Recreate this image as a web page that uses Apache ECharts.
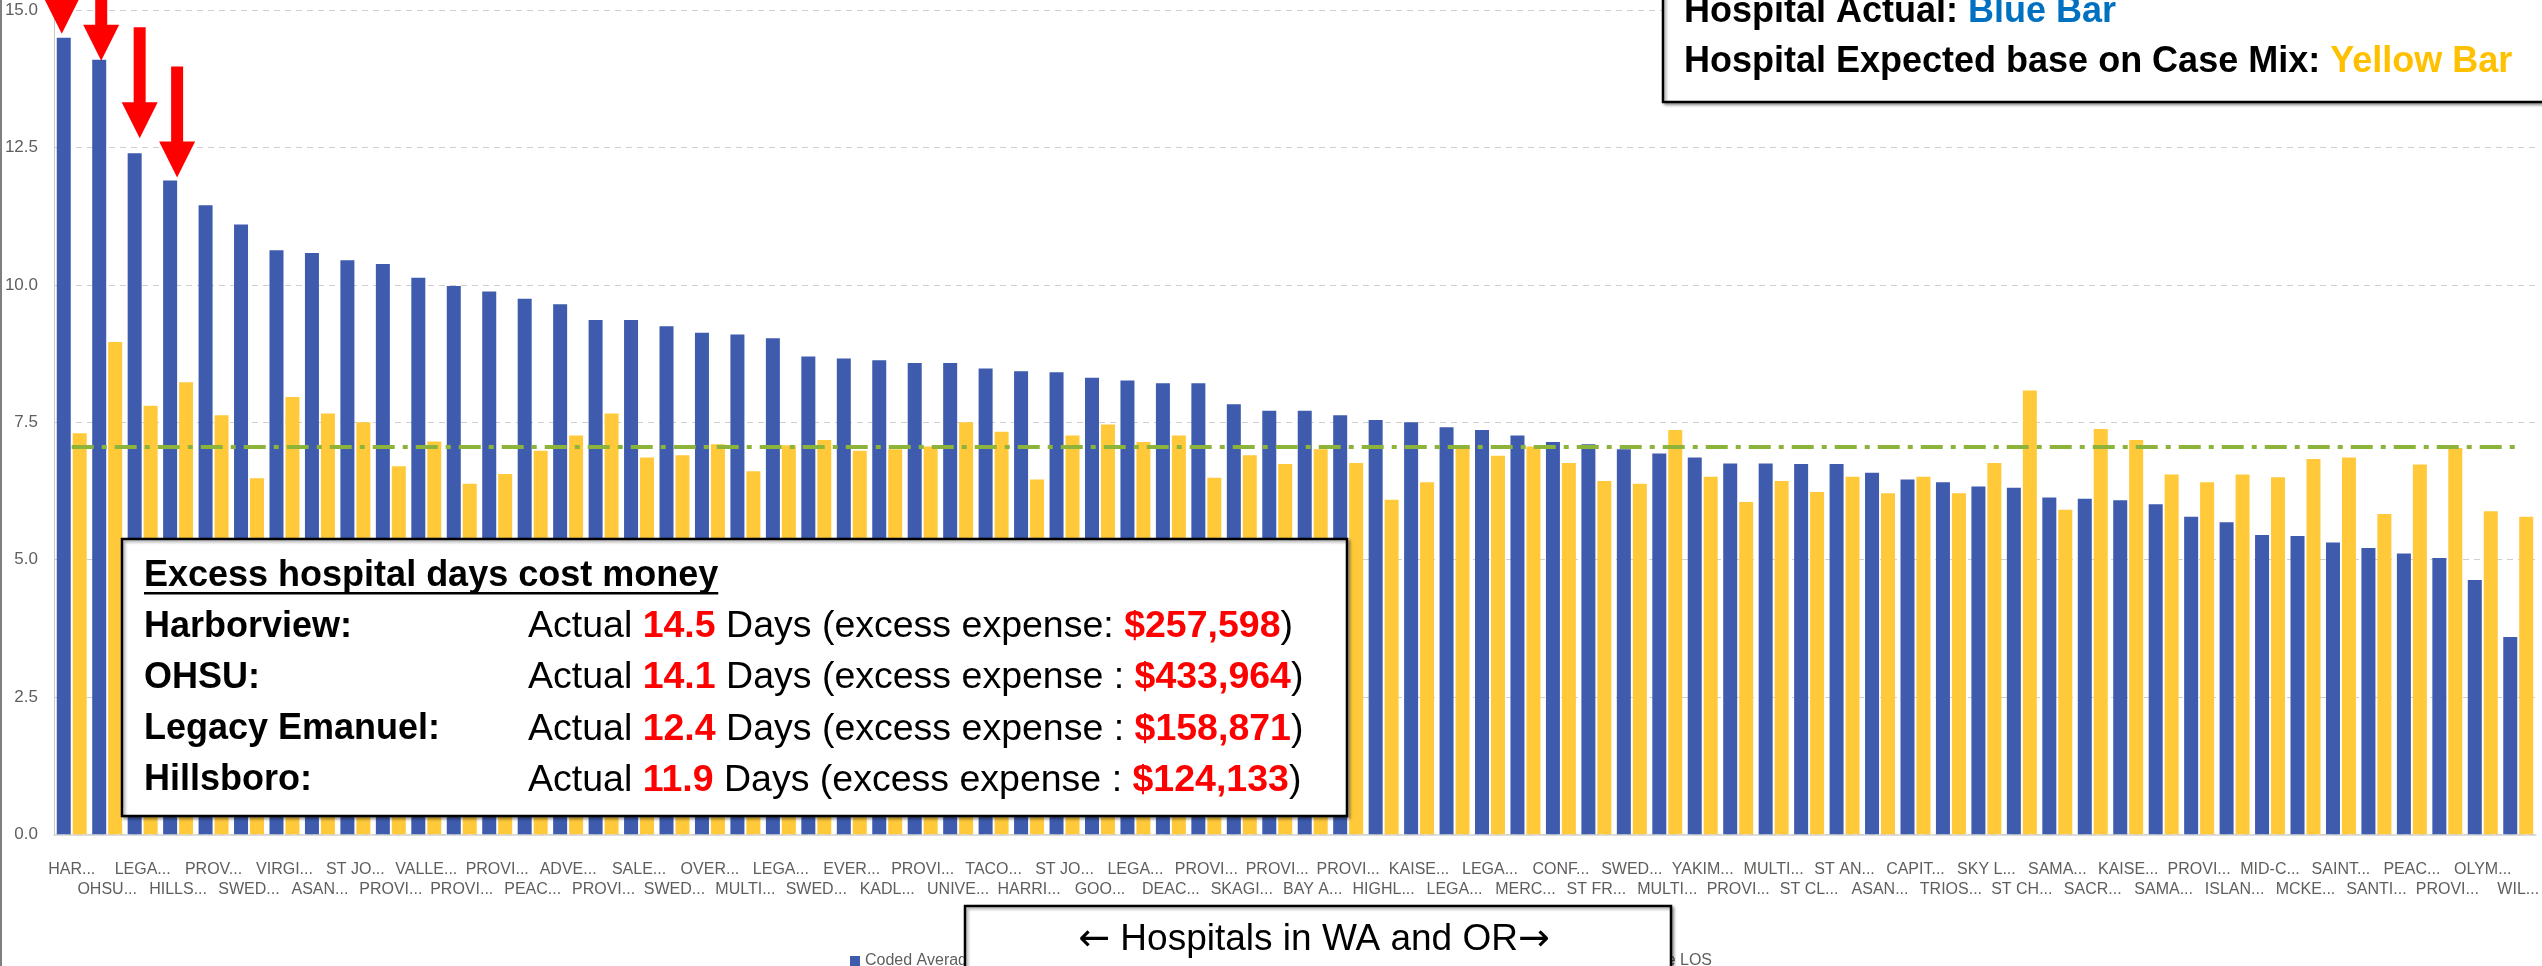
<!DOCTYPE html>
<html>
<head>
<meta charset="utf-8">
<title>Hospital LOS - actual vs expected</title>
<script src="https://cdn.jsdelivr.net/npm/echarts@6/dist/echarts.min.js"></script>
<style>
    html, body { margin: 0; padding: 0; background: #fff; }
    #main { width: 2542px; height: 966px; }
</style>
</head>
<body>
<div id="main"></div>
<script>
// hospitals as they show on the axis (names are cut off in the source)
const categories = [
    'HAR...', 'OHSU...', 'LEGA...', 'HILLS...', 'PROV...', 'SWED...', 'VIRGI...', 'ASAN...', 'ST JO...', 'PROVI...',
    'VALLE...', 'PROVI...', 'PROVI...', 'PEAC...', 'ADVE...', 'PROVI...', 'SALE...', 'SWED...', 'OVER...', 'MULTI...',
    'LEGA...', 'SWED...', 'EVER...', 'KADL...', 'PROVI...', 'UNIVE...', 'TACO...', 'HARRI...', 'ST JO...', 'GOO...',
    'LEGA...', 'DEAC...', 'PROVI...', 'SKAGI...', 'PROVI...', 'BAY A...', 'PROVI...', 'HIGHL...', 'KAISE...', 'LEGA...',
    'LEGA...', 'MERC...', 'CONF...', 'ST FR...', 'SWED...', 'MULTI...', 'YAKIM...', 'PROVI...', 'MULTI...', 'ST CL...',
    'ST AN...', 'ASAN...', 'CAPIT...', 'TRIOS...', 'SKY L...', 'ST CH...', 'SAMA...', 'SACR...', 'KAISE...', 'SAMA...',
    'PROVI...', 'ISLAN...', 'MID-C...', 'MCKE...', 'SAINT...', 'SANTI...', 'PEAC...', 'PROVI...', 'OLYM...', 'WIL...'
];

// coded (actual) average length of stay, days
const actualLOS = [
    14.5, 14.1, 12.4, 11.9, 11.45, 11.1, 10.63, 10.58, 10.45, 10.38,
    10.13, 9.98, 9.88, 9.75, 9.65, 9.36, 9.36, 9.25, 9.13, 9.1,
    9.03, 8.7, 8.66, 8.63, 8.58, 8.58, 8.48, 8.43, 8.41, 8.31,
    8.26, 8.21, 8.21, 7.83, 7.71, 7.71, 7.63, 7.54, 7.5, 7.41,
    7.36, 7.26, 7.14, 7.1, 7.01, 6.93, 6.86, 6.75, 6.75, 6.74,
    6.74, 6.58, 6.46, 6.41, 6.33, 6.31, 6.13, 6.11, 6.08, 6.01,
    5.78, 5.68, 5.45, 5.43, 5.31, 5.21, 5.11, 5.03, 4.63, 3.59
];

// expected average length of stay from case mix, days
const expectedLOS = [
    7.3, 8.96, 7.8, 8.23, 7.63, 6.48, 7.96, 7.66, 7.5, 6.7,
    7.15, 6.38, 6.56, 6.98, 7.26, 7.66, 6.86, 6.9, 7.1, 6.61,
    7.08, 7.18, 6.98, 7.01, 7.06, 7.5, 7.33, 6.46, 7.26, 7.46,
    7.14, 7.26, 6.49, 6.9, 6.74, 7.01, 6.76, 6.09, 6.41, 7.06,
    6.89, 7.06, 6.76, 6.43, 6.38, 7.36, 6.51, 6.05, 6.43, 6.23,
    6.51, 6.21, 6.51, 6.21, 6.76, 8.08, 5.91, 7.38, 7.18, 6.55,
    6.41, 6.55, 6.5, 6.83, 6.86, 5.83, 6.73, 7.03, 5.88, 5.78
];

const avgExpected = 7.06;

// the four hospitals called out with red arrows and in the box
const calloutIndex = [0, 1, 2, 3];
const calloutNames = ['Harborview:', 'OHSU:', 'Legacy Emanuel:', 'Hillsboro:'];
const calloutDays = ['14.5', '14.1', '12.4', '11.9'];
const calloutCost = ['$257,598', '$433,964', '$158,871', '$124,133'];

const FONT = "'Liberation Sans', Arial, sans-serif";
const BLUE = '#3E5BAE';
const YELLOW = '#FFC93A';
const AXIS_TEXT = '#605e5c';

function txt(size, weight, color) {
    return {fontSize: size, fontWeight: weight, fontFamily: FONT, fill: color};
}

// hand drawn arrows: horizontal nudge, gap above the bar and shaft length
const arrowLook = [
    {dx: -2, gap: 4, shaft: 40},
    {dx: 2, gap: -1, shaft: 40},
    {dx: 5, gap: 15, shaft: 76},
    {dx: 7, gap: 3, shaft: 76}
];

let arrowPoints = [];
calloutIndex.forEach(function (idx, k) {
    const a = arrowLook[k];
    arrowPoints.push({
        coord: [idx, actualLOS[idx]],
        symbol: 'triangle',
        symbolRotate: 180,
        symbolSize: [36, 36],
        symbolOffset: [a.dx, -(a.gap + 18)]
    });
    arrowPoints.push({
        coord: [idx, actualLOS[idx]],
        symbol: 'rect',
        symbolSize: [12, a.shaft],
        symbolOffset: [a.dx, -(a.gap + 35 + a.shaft / 2)]
    });
});

// underline length of the box title
const title = 'Excess hospital days cost money';
const measure = document.createElement('canvas').getContext('2d');
measure.font = 'bold 36px ' + FONT;
const titleWidth = measure.measureText(title).width;

const boxStyle = {
    fill: '#fff', stroke: '#000', lineWidth: 2.5,
    shadowBlur: 3, shadowOffsetX: 2, shadowOffsetY: 2, shadowColor: 'rgba(0,0,0,0.35)'
};

const arrowGlyph = {fontSize: 38, fontFamily: "'DejaVu Sans', sans-serif", fill: '#000'};

let elements = [
    {type: 'rect', z: 100, shape: {x: 0, y: 0, width: 2, height: 966}, style: {fill: '#7f7f7f'}},

    // legend box top right
    {type: 'rect', z: 100, shape: {x: 1663, y: -6, width: 900, height: 108}, style: boxStyle},
    {
        type: 'text', z: 101, x: 1684, y: 12,
        style: Object.assign(txt(36, 'bold', '#000'), {
            text: 'Hospital Actual: {b|Blue Bar}', verticalAlign: 'middle',
            rich: {b: txt(36, 'bold', '#0070C0')}
        })
    },
    {
        type: 'text', z: 101, x: 1684, y: 62.5,
        style: Object.assign(txt(36, 'bold', '#000'), {
            text: 'Hospital Expected base on Case Mix: {y|Yellow Bar}', verticalAlign: 'middle',
            rich: {y: txt(36, 'bold', '#FFC000')}
        })
    },

    // excess days box
    {type: 'rect', z: 100, shape: {x: 122, y: 539, width: 1225, height: 277}, style: boxStyle},
    {
        type: 'text', z: 101, x: 144, y: 576,
        style: Object.assign(txt(36, 'bold', '#000'), {text: title, verticalAlign: 'middle'})
    },
    {
        type: 'rect', z: 101,
        shape: {x: 144, y: 592, width: titleWidth, height: 2.5},
        style: {fill: '#000'}
    },

    // x axis caption box
    {type: 'rect', z: 100, shape: {x: 965, y: 906, width: 706, height: 80}, style: boxStyle},
    {
        type: 'text', z: 101, x: 1314, y: 940,
        style: Object.assign(txt(37, 'normal', '#000'), {
            text: '{a|\u2190} Hospitals in WA and OR{a|\u2192}', align: 'center', verticalAlign: 'middle',
            rich: {a: arrowGlyph}
        })
    }
];

calloutNames.forEach(function (name, k) {
    const cy = 627 + k * 51.1;
    elements.push({
        type: 'text', z: 101, x: 144, y: cy,
        style: Object.assign(txt(36, 'bold', '#000'), {text: name, verticalAlign: 'middle'})
    });
    elements.push({
        type: 'text', z: 101, x: 528, y: cy,
        style: Object.assign(txt(37.5, 'normal', '#000'), {
            text: 'Actual {r|' + calloutDays[k] + '} Days (excess expense' + (k === 0 ? ': ' : ' : ') +
                '{r|' + calloutCost[k] + '})',
            verticalAlign: 'middle',
            rich: {r: txt(37.5, 'bold', '#FF0000')}
        })
    });
});

const option = {
    animation: false,
    backgroundColor: '#fff',
    grid: {left: 54, top: 10.3, width: 2500, height: 824},
    legend: [
        {
            data: ['Coded Average LOS'], left: 850, top: 953, padding: 0,
            icon: 'rect', itemWidth: 10, itemHeight: 10,
            textStyle: {fontSize: 16, color: AXIS_TEXT, fontFamily: FONT}
        },
        {
            data: ['Expected Average LOS'], right: 830, top: 953, padding: 0,
            icon: 'rect', itemWidth: 10, itemHeight: 10,
            textStyle: {fontSize: 16, color: AXIS_TEXT, fontFamily: FONT}
        }
    ],
    xAxis: {
        type: 'category',
        data: categories,
        offset: 10,
        axisLine: {lineStyle: {color: '#d2d2d2', width: 1.5}},
        axisTick: {alignWithLabel: true, length: 8, lineStyle: {color: '#d2d2d2'}},
        axisLabel: {
            interval: 0,
            fontSize: 16,
            lineHeight: 20,
            margin: 15,
            color: AXIS_TEXT,
            fontFamily: FONT,
            formatter: function (value, index) {
                return index % 2 ? '\n' + value : value;
            }
        }
    },
    yAxis: {
        type: 'value',
        min: 0,
        max: 15,
        interval: 2.5,
        axisLine: {show: true, lineStyle: {color: '#c8c8c8'}},
        axisTick: {show: false},
        axisLabel: {
            fontSize: 17, color: AXIS_TEXT, margin: 16, fontFamily: FONT,
            formatter: function (v) { return v.toFixed(1); }
        },
        splitLine: {lineStyle: {color: '#cfcfcf', type: [6, 5]}}
    },
    series: [
        {
            name: 'Coded Average LOS',
            type: 'bar',
            data: actualLOS,
            barWidth: 14,
            barGap: '14%',
            itemStyle: {color: BLUE},
            markPoint: {
                silent: true,
                itemStyle: {color: '#FF0000'},
                label: {show: false},
                data: arrowPoints
            }
        },
        {
            name: 'Expected Average LOS',
            type: 'bar',
            data: expectedLOS,
            barWidth: 14,
            itemStyle: {color: YELLOW}
        },
        {
            // carrier for the average expected LOS reference line (from first to last hospital)
            name: 'Average Expected LOS',
            type: 'line',
            data: [],
            z: 5,
            markLine: {
                silent: true,
                symbol: ['none', 'none'],
                label: {show: false},
                lineStyle: {color: '#8DB43A', width: 4, type: [22, 8, 5, 8]},
                data: [[{coord: [0, avgExpected]}, {coord: [categories.length - 1, avgExpected]}]]
            }
        }
    ],
    graphic: {elements: elements}
};

const chart = echarts.init(document.getElementById('main'));
chart.setOption(option);
</script>
</body>
</html>
